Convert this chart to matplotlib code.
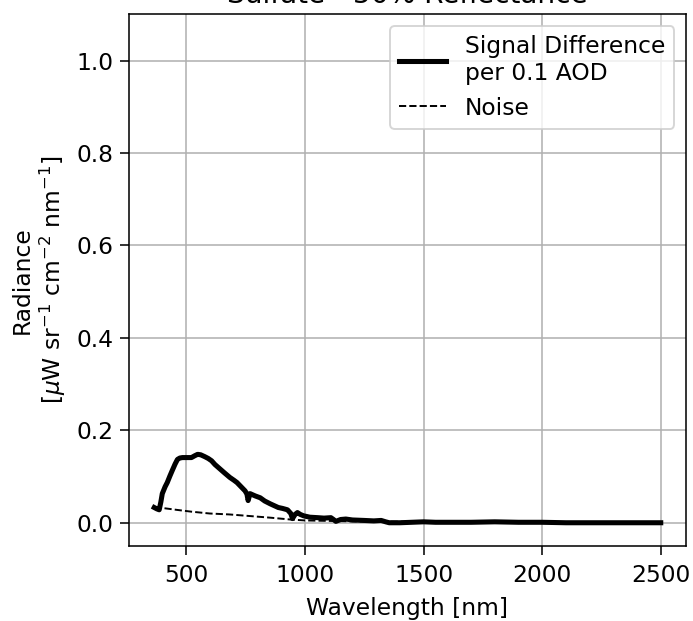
import matplotlib.pyplot as plt

# signal difference per 0.1 AOD
sig_wl = [364, 375, 385, 392, 398, 410, 419, 430, 440, 452, 462, 472, 483, 500,
          521, 535, 547, 560, 577, 592, 606, 620, 640, 660, 683, 700, 713, 730,
          747, 755, 760, 768, 790, 811, 830, 853, 870, 887, 905, 926, 940, 947,
          958, 968, 980, 994, 1020, 1053, 1080, 1109, 1120, 1130, 1150, 1172,
          1200, 1249, 1290, 1321, 1340, 1355, 1400, 1450, 1500, 1550, 1600,
          1700, 1800, 1900, 2000, 2100, 2200, 2300, 2400, 2500]
sig_val = [0.033, 0.030, 0.028, 0.045, 0.063, 0.078, 0.087, 0.101, 0.113, 0.127,
           0.137, 0.140, 0.141, 0.141, 0.141, 0.145, 0.148, 0.147, 0.143, 0.139,
           0.134, 0.126, 0.117, 0.108, 0.098, 0.092, 0.087, 0.078, 0.069, 0.062,
           0.048, 0.063, 0.058, 0.054, 0.047, 0.041, 0.037, 0.033, 0.031, 0.028,
           0.020, 0.009, 0.018, 0.022, 0.018, 0.015, 0.012, 0.011, 0.010, 0.011,
           0.007, 0.003, 0.007, 0.008, 0.006, 0.005, 0.004, 0.005, 0.002, 0.000,
           0.000, 0.001, 0.002, 0.001, 0.001, 0.001, 0.002, 0.001, 0.001, 0.000,
           0.000, 0.000, 0.000, 0.000]

# noise
noise_wl = [364, 398, 457, 520, 598, 680, 755, 853, 938, 1000, 1200, 1500, 2000, 2500]
noise_val = [0.033, 0.032, 0.028, 0.024, 0.020, 0.018, 0.015, 0.011, 0.007,
             0.005, 0.003, 0.002, 0.001, 0.001]

plt.rcParams['font.size'] = 12
plt.rcParams['xtick.major.pad'] = 5
plt.rcParams['xtick.major.size'] = 4.5
plt.rcParams['ytick.major.size'] = 4.5

fig = plt.figure(figsize=(693 / 140, 621 / 140), dpi=140)
ax = fig.add_axes([0.186, 0.121, 0.804, 0.856])

ax.plot(sig_wl, sig_val, color='black', linewidth=2.6,
        label='Signal Difference\nper 0.1 AOD')
ax.plot(noise_wl, noise_val, color='black', linestyle='--', linewidth=1.0,
        label='Noise')

ax.set_ylim(-0.05, 1.1)
ax.set_xticks([500, 1000, 1500, 2000, 2500])
ax.set_yticks([0.0, 0.2, 0.4, 0.6, 0.8, 1.0])
ax.set_xlabel('Wavelength [nm]', labelpad=5)
ax.set_ylabel('Radiance\n[$\\mu$W sr$^{-1}$ cm$^{-2}$ nm$^{-1}$]')
ax.set_title('Sulfate - 50% Reflectance')
ax.grid(True)
ax.legend(loc='upper right')

fig.savefig('out.png', dpi=140)
